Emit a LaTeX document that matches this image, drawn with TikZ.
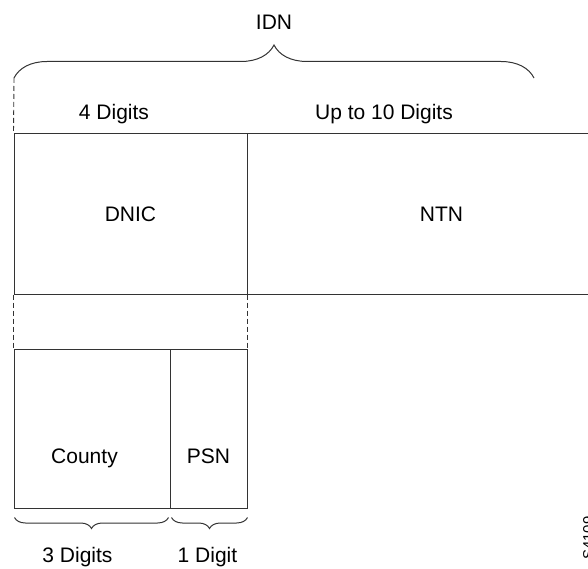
\documentclass[tikz,border=0pt]{standalone}
\usepackage{fontspec}
\setmainfont{Liberation Sans}
\usetikzlibrary{positioning,calc,decorations.pathreplacing}

\begin{document}
\begin{tikzpicture}[x=1pt, y=-1pt,
  field/.style={rectangle, draw=black!80, line width=1pt, inner sep=0pt},
  lbl/.style={font=\fontsize{21}{25}\selectfont, inner sep=0pt, anchor=base},
  guide/.style={draw=black!80, line width=0.9pt, dash pattern=on 5pt off 3pt},
  bigbrace/.style={decorate, decoration={brace, amplitude=33pt}, draw=black!80, line width=1pt},
  smallbrace/.style={decorate, decoration={brace, mirror, amplitude=11pt}, draw=black!80, line width=1pt},
  figid/.style={font=\fontsize{15}{17}\selectfont, inner sep=0pt, rotate=90, anchor=north},
]
\useasboundingbox (0,0) rectangle (588,569);

%% ── Row 1: IDN fields ──
\node[field, minimum width=233, minimum height=160] (dnic) at (130.5,214) {};
\node[field, minimum width=389, minimum height=160] (ntn)  at (441.5,214) {};
\node[lbl] (dnictxt) at (130.5,221.5) {DNIC};
\node[lbl] (ntntxt)  at (441.5,221.5) {NTN};

%% ── Row 2: DNIC split ──
\node[field, minimum width=156, minimum height=159] (county) at (92,428.5)  {};
\node[field, minimum width=77,  minimum height=159] (psn)    at (208.5,428.5) {};
\node[lbl] (countytxt) at (84.5,463) {County};
\node[lbl] (psntxt)    at (208.5,463) {PSN};

%% ── Top brace and lengths ──
\coordinate (idnL) at (14,78);
\coordinate (idnR) at (534,78);
\draw[bigbrace] (idnL) -- (idnR);
\node[lbl] (idn) at (274,30) {IDN};
\node[lbl] (four) at (114,120) {4 Digits};
\node[lbl] (upto) at (384,120) {Up to 10 Digits};

%% ── Dashed guides ──
\draw[guide] (idnL) -- (dnic.north west);
\draw[guide] (dnic.south west) -- (county.north west);
\draw[guide] (dnic.south east) -- (psn.north east);

%% ── Bottom braces and lengths ──
\draw[smallbrace] ($(county.south west)+(1,9)$) -- ($(county.south east)+(-2,9)$);
\draw[smallbrace] ($(psn.south west)+(2,9)$) -- ($(psn.south east)+(0,9)$);
\node[lbl] (three) at (77.5,562) {3 Digits};
\node[lbl] (one)   at (207.5,562) {1 Digit};

%% ── Figure id (cut at edge) ──
\node[figid] (fig) at (583,538) {S4109};
\end{tikzpicture}
\end{document}
